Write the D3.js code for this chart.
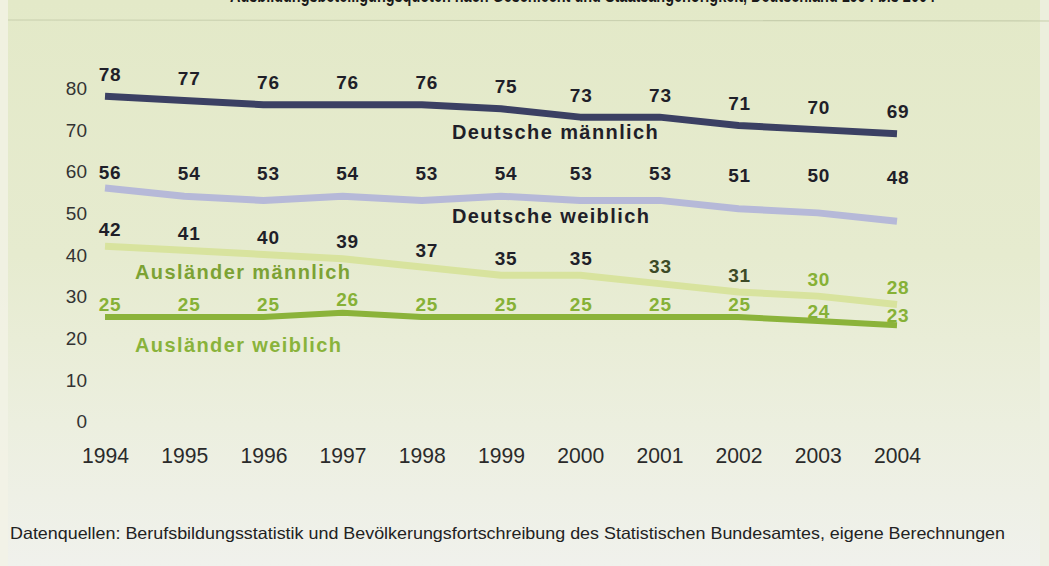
<!DOCTYPE html>
<html>
<head>
<meta charset="utf-8">
<script src="https://cdn.jsdelivr.net/npm/d3@7"></script>
<style>
  html, body { margin: 0; padding: 0; background: #eef0e6; }
  svg { display: block; }
</style>
</head>
<body>
<svg id="chart" width="1049" height="566"></svg>
<script>
// ---------- data ----------
const years = [1994, 1995, 1996, 1997, 1998, 1999, 2000, 2001, 2002, 2003, 2004];
const deutscheMaennlich = [78, 77, 76, 76, 76, 75, 73, 73, 71, 70, 69];
const deutscheWeiblich  = [56, 54, 53, 54, 53, 54, 53, 53, 51, 50, 48];
const auslaenderMaennlich = [42, 41, 40, 39, 37, 35, 35, 33, 31, 30, 28];
const auslaenderWeiblich  = [25, 25, 25, 26, 25, 25, 25, 25, 25, 24, 23];
const seriesNames = ["Deutsche männlich", "Deutsche weiblich", "Ausländer männlich", "Ausländer weiblich"];
const yTicks = [0, 10, 20, 30, 40, 50, 60, 70, 80];
const titleText = "Ausbildungsbeteiligungsquoten nach Geschlecht und Staatsangehörigkeit, Deutschland 1994 bis 2004";
const sourceText = "Datenquellen: Berufsbildungsstatistik und Bevölkerungsfortschreibung des Statistischen Bundesamtes, eigene Berechnungen";

// ---------- layout / style ----------
const W = 1049, H = 566;
const svg = d3.select("#chart");
const defs = svg.append("defs");
const grad = defs.append("linearGradient").attr("id", "bg").attr("x1", 0).attr("y1", 0).attr("x2", 0).attr("y2", 1);
grad.append("stop").attr("offset", "0%").attr("stop-color", "#e3e9c8");
grad.append("stop").attr("offset", "45%").attr("stop-color", "#e6ebcf");
grad.append("stop").attr("offset", "75%").attr("stop-color", "#ecefdf");
grad.append("stop").attr("offset", "100%").attr("stop-color", "#f0f1ec");
svg.append("rect").attr("width", W).attr("height", H).attr("fill", "url(#bg)");
svg.append("rect").attr("x", 0).attr("y", 0).attr("width", 8).attr("height", H).attr("fill", "#f3f2e6").attr("opacity", 0.8);
svg.append("rect").attr("x", 1040).attr("y", 0).attr("width", 9).attr("height", H).attr("fill", "#eef0e2").attr("opacity", 0.8);
svg.append("line").attr("x1", 8).attr("x2", W).attr("y1", 20).attr("y2", 21)
  .attr("stroke", "#c8cfae").attr("stroke-width", 1.2);

// title: the reference shows it clipped at the top edge (only glyph bottoms visible)
svg.append("text").attr("x", 230).attr("y", 2)
  .attr("textLength", 705).attr("lengthAdjust", "spacingAndGlyphs")
  .attr("font-family", "Liberation Sans, Arial, sans-serif").attr("font-weight", "bold")
  .attr("font-size", 21).attr("fill", "#1a1a1a").text(titleText);

const x = d3.scaleLinear().domain([1994, 2004]).range([105, 897]);
const y = d3.scaleLinear().domain([0, 80]).range([421, 88]);

const dark = "#1f1f29";
const green = "#86b136";
const series = [
  { name: seriesNames[0], values: deutscheMaennlich, stroke: "#3b4063", width: 7,
    labelY: (v, i, arr) => y(v) - 22, labelColor: () => dark,
    nameX: 452, nameY: 132, nameColor: dark },
  { name: seriesNames[1], values: deutscheWeiblich, stroke: "#b6b9d8", width: 7,
    labelY: (v, i, arr) => y(arr[0]) - 16 + (y(v) - y(arr[0])) * 0.15, labelColor: () => dark,
    nameX: 452, nameY: 216, nameColor: dark },
  { name: seriesNames[2], values: auslaenderMaennlich, stroke: "#d8e39e", width: 7,
    labelY: (v) => y(v) - 17,
    labelColor: (i) => i <= 6 ? dark : (i <= 8 ? "#3c4a26" : green),
    nameX: 135, nameY: 272, nameColor: "#7ca234" },
  { name: seriesNames[3], values: auslaenderWeiblich, stroke: "#8bb33a", width: 6,
    labelY: (v, i) => y(v) - 13 + (i >= 9 ? 3 : 0), labelColor: () => green,
    nameX: 135, nameY: 345, nameColor: "#89b33b" }
];

// y axis
const yAxis = d3.axisLeft(y).tickValues(yTicks).tickSize(0).tickPadding(0);
const gy = svg.append("g").attr("transform", "translate(87,0)").call(yAxis);
gy.select(".domain").remove();
gy.selectAll("text").attr("font-family", "Liberation Sans, Arial, sans-serif")
  .attr("font-size", 19).attr("fill", "#333").attr("dy", "0.35em");

// x axis (year labels)
const xAxis = d3.axisBottom(x).tickValues(years).tickFormat(d3.format("d")).tickSize(0).tickPadding(0);
const gx = svg.append("g").attr("transform", "translate(0,455)").call(xAxis);
gx.select(".domain").remove();
gx.selectAll("text").attr("font-family", "Liberation Sans, Arial, sans-serif")
  .attr("font-size", 22).attr("fill", "#2a2a2a").attr("dy", "0.35em")
  .attr("textLength", 47).attr("lengthAdjust", "spacingAndGlyphs");

// lines
const line = d3.line().x((d, i) => x(years[i])).y(d => y(d)).curve(d3.curveLinear);
svg.append("g").selectAll("path").data(series).join("path")
  .attr("d", s => line(s.values))
  .attr("fill", "none").attr("stroke", s => s.stroke).attr("stroke-width", s => s.width)
  .attr("stroke-linejoin", "round").attr("stroke-linecap", "butt");

// value labels
series.forEach(s => {
  svg.append("g").selectAll("text").data(s.values).join("text")
    .attr("x", (d, i) => x(years[i]) + (i < 6 ? 5 : 1))
    .attr("y", (d, i) => s.labelY(d, i, s.values))
    .attr("dy", "0.35em").attr("text-anchor", "middle")
    .attr("font-family", "Liberation Sans, Arial, sans-serif").attr("font-weight", "bold")
    .attr("font-size", 19).attr("letter-spacing", 0.8)
    .attr("fill", (d, i) => s.labelColor(i))
    .text(d => d);
});

// series names
svg.append("g").selectAll("text").data(series).join("text")
  .attr("x", s => s.nameX).attr("y", s => s.nameY).attr("dy", "0.35em")
  .attr("font-family", "Liberation Sans, Arial, sans-serif").attr("font-weight", "bold")
  .attr("font-size", 20).attr("letter-spacing", 1.4)
  .attr("fill", s => s.nameColor).text(s => s.name);

// source
svg.append("text").attr("x", 10).attr("y", 539)
  .attr("textLength", 995).attr("lengthAdjust", "spacingAndGlyphs")
  .attr("font-family", "Liberation Sans, Arial, sans-serif")
  .attr("font-size", 16.5).attr("fill", "#222").text(sourceText);
</script>
</body>
</html>
